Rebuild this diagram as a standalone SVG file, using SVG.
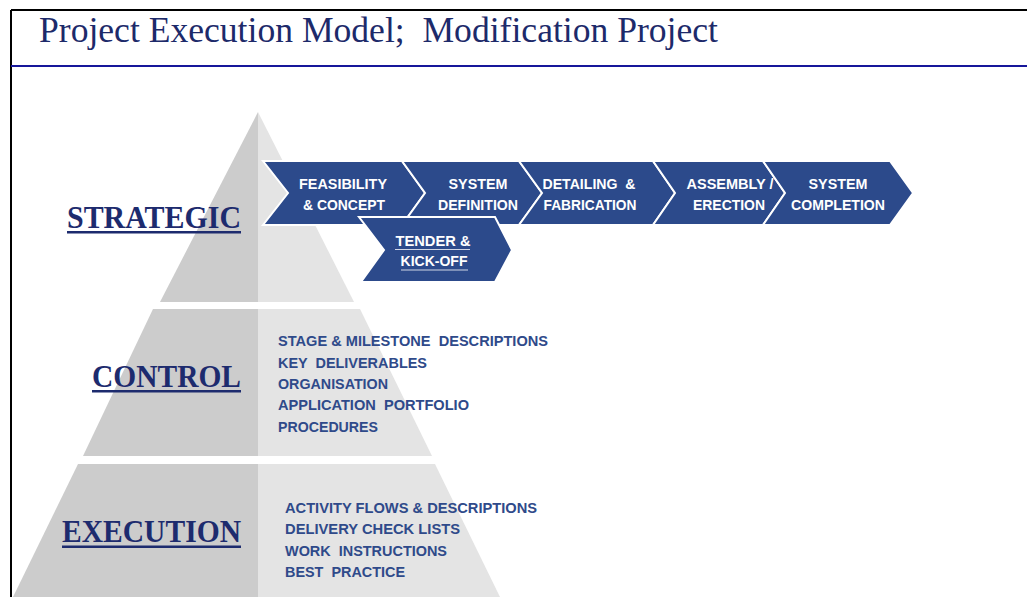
<svg xmlns="http://www.w3.org/2000/svg" width="1027" height="597" viewBox="0 0 1027 597">
<style>
.dark{fill:#cccccc}
.light{fill:#e4e4e4}
.chev{fill:#2c4a8b;stroke:#ffffff;stroke-width:2;stroke-linejoin:miter}
.ct{font-family:"Liberation Sans",Arial,sans-serif;font-weight:bold;font-size:15px;fill:#ffffff;text-anchor:middle}
.lvl{font-family:"Liberation Serif","Times New Roman",serif;font-weight:bold;font-size:31px;fill:#1d2b6e}
.ul{fill:#1d2b6e}
.it{font-family:"Liberation Sans",Arial,sans-serif;font-weight:bold;font-size:15px;fill:#2f4a8a}
</style>
<rect x="0" y="0" width="1027" height="597" fill="#ffffff"/>
<g id="frame">
<line x1="11" y1="10" x2="1027" y2="10" stroke="#000" stroke-width="2"/>
<line x1="11" y1="10" x2="11" y2="597" stroke="#000" stroke-width="2"/>
<line x1="11" y1="66" x2="1027" y2="66" stroke="#16169a" stroke-width="2"/>
</g>
<g id="title">
<text x="39" y="42" font-family="'Liberation Serif','Times New Roman',serif" font-size="35" fill="#1d2a6a" textLength="679" lengthAdjust="spacingAndGlyphs" xml:space="preserve">Project Execution Model;  Modification Project</text>
</g>
<g id="pyramid">
<polygon class="dark" points="258,112 258,302 160,302"/>
<polygon class="light" points="258,112 354,302 258,302"/>
<polygon class="dark" points="153,309 258,309 258,456 83,456"/>
<polygon class="light" points="258,309 360,309 432,456 258,456"/>
<polygon class="dark" points="78,464 258,464 258,597 13,597"/>
<polygon class="light" points="258,464 435,464 500,597 258,597"/>
</g>
<g id="level-strategic">
<text class="lvl" x="67" y="228" font-size="32" textLength="174" lengthAdjust="spacingAndGlyphs">STRATEGIC</text>
<rect class="ul" x="67" y="231" width="174" height="2.5"/>
</g>
<g id="level-control">
<text class="lvl" x="92" y="387" textLength="149" lengthAdjust="spacingAndGlyphs">CONTROL</text>
<rect class="ul" x="92" y="390" width="149" height="2.5"/>
</g>
<g id="level-execution">
<text class="lvl" x="62" y="542" textLength="179" lengthAdjust="spacingAndGlyphs">EXECUTION</text>
<rect class="ul" x="62" y="545.5" width="179" height="2.5"/>
</g>
<g id="stage-feasibility">
<polygon class="chev" points="263,161 402,161 425,193 402,225 263,225 288,193"/>
<text class="ct" x="343" y="189" textLength="88" lengthAdjust="spacingAndGlyphs">FEASIBILITY</text>
<text class="ct" x="344" y="210" textLength="82" lengthAdjust="spacingAndGlyphs">&amp; CONCEPT</text>
</g>
<g id="stage-system-definition">
<polygon class="chev" points="402,161 519,161 542,193 519,225 402,225 425,193"/>
<text class="ct" x="478" y="189" textLength="59" lengthAdjust="spacingAndGlyphs">SYSTEM</text>
<text class="ct" x="478" y="210" textLength="80" lengthAdjust="spacingAndGlyphs">DEFINITION</text>
</g>
<g id="stage-detailing">
<polygon class="chev" points="519,161 653,161 675,193 653,225 519,225 542,193"/>
<text class="ct" x="589" y="189" xml:space="preserve" textLength="93" lengthAdjust="spacingAndGlyphs">DETAILING  &amp;</text>
<text class="ct" x="590" y="210" textLength="93" lengthAdjust="spacingAndGlyphs">FABRICATION</text>
</g>
<g id="stage-assembly">
<polygon class="chev" points="653,161 763,161 785,193 763,225 653,225 675,193"/>
<text class="ct" x="730" y="189" textLength="87" lengthAdjust="spacingAndGlyphs">ASSEMBLY /</text>
<text class="ct" x="729" y="210" textLength="72" lengthAdjust="spacingAndGlyphs">ERECTION</text>
</g>
<g id="stage-completion">
<polygon class="chev" points="763,161 890,161 913,193 890,225 763,225 785,193"/>
<text class="ct" x="838" y="189" textLength="59" lengthAdjust="spacingAndGlyphs">SYSTEM</text>
<text class="ct" x="838" y="210" textLength="94" lengthAdjust="spacingAndGlyphs">COMPLETION</text>
</g>
<g id="stage-tender">
<polygon class="chev" points="359,217 495,217 512,250 495,282 361,282 384,250"/>
<text class="ct" x="433" y="246" textLength="75" lengthAdjust="spacingAndGlyphs">TENDER &amp;</text>
<line x1="395" y1="249.5" x2="470" y2="249.5" stroke="#d0d6e6" stroke-width="1.2"/>
<text class="ct" x="434" y="266" textLength="67" lengthAdjust="spacingAndGlyphs">KICK-OFF</text>
<line x1="401" y1="270" x2="468" y2="270" stroke="#d0d6e6" stroke-width="1.2"/>
</g>
<g id="control-items">
<text class="it" x="278" y="346" xml:space="preserve" textLength="270" lengthAdjust="spacingAndGlyphs">STAGE &amp; MILESTONE  DESCRIPTIONS</text>
<text class="it" x="278" y="367.5" xml:space="preserve" textLength="149" lengthAdjust="spacingAndGlyphs">KEY  DELIVERABLES</text>
<text class="it" x="278" y="389" textLength="110" lengthAdjust="spacingAndGlyphs">ORGANISATION</text>
<text class="it" x="278" y="410" xml:space="preserve" textLength="191" lengthAdjust="spacingAndGlyphs">APPLICATION  PORTFOLIO</text>
<text class="it" x="278" y="431.5" textLength="100" lengthAdjust="spacingAndGlyphs">PROCEDURES</text>
</g>
<g id="execution-items">
<text class="it" x="285" y="513" textLength="252" lengthAdjust="spacingAndGlyphs">ACTIVITY FLOWS &amp; DESCRIPTIONS</text>
<text class="it" x="285" y="534" textLength="175" lengthAdjust="spacingAndGlyphs">DELIVERY CHECK LISTS</text>
<text class="it" x="285" y="555.5" xml:space="preserve" textLength="162" lengthAdjust="spacingAndGlyphs">WORK  INSTRUCTIONS</text>
<text class="it" x="285" y="577" xml:space="preserve" textLength="120" lengthAdjust="spacingAndGlyphs">BEST  PRACTICE</text>
</g>
</svg>
